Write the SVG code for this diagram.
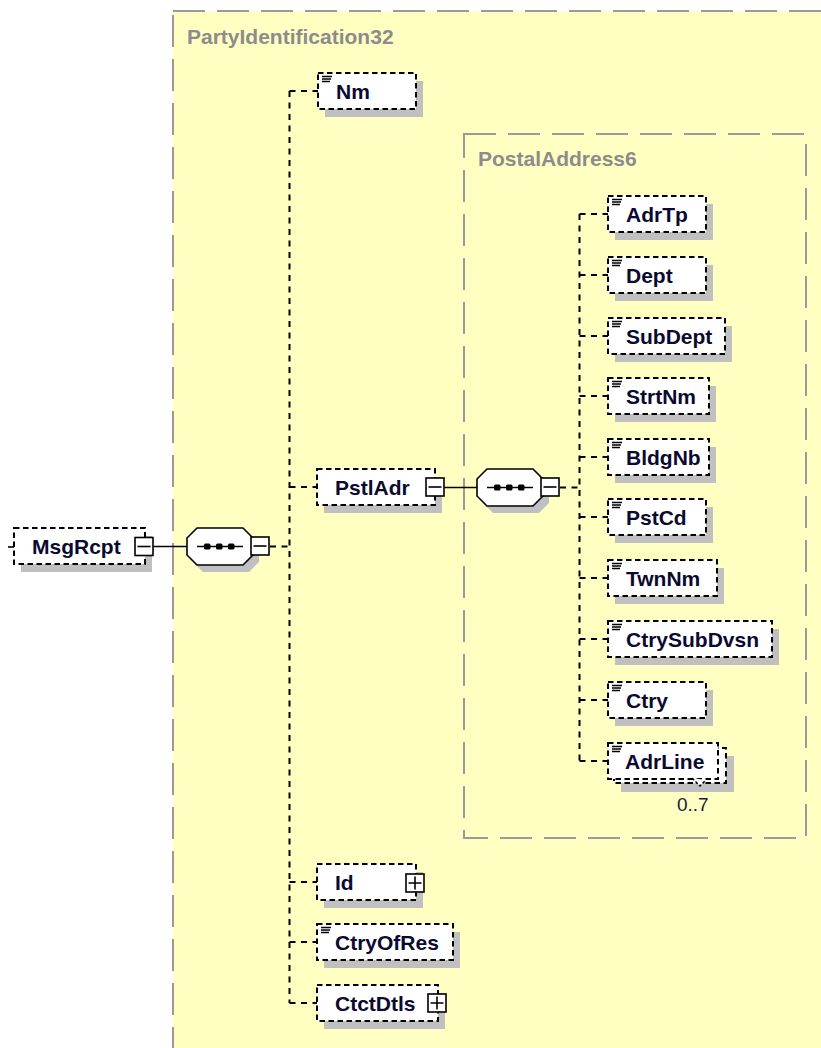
<svg xmlns="http://www.w3.org/2000/svg" xmlns:xlink="http://www.w3.org/1999/xlink" width="821" height="1048" viewBox="0 0 821 1048">
<style>
.cont{fill:#ffffc2;stroke:#9a9a9a;stroke-width:2;stroke-dasharray:32 12}
.ttl{font-family:"Liberation Sans",Arial,sans-serif;font-weight:bold;font-size:21px;fill:#8c8c8c}
.node{fill:#fff;stroke:#000;stroke-width:2;stroke-dasharray:5.5 3.5}
.shadow{fill:#c0c0c0}
.lbl{font-family:"Liberation Sans",Arial,sans-serif;font-weight:bold;font-size:21px;fill:#0a0a30}
.card{font-family:"Liberation Sans",Arial,sans-serif;font-size:19px;fill:#1a1a3c}
.conn{fill:none;stroke:#000;stroke-width:2;stroke-dasharray:6 5.5}
.solid{fill:none;stroke:#000;stroke-width:1.6}
</style>
<defs>
<g id="ico"><path d="M4 3.5h10M4 6h9M4 8.5h8" stroke="#000" stroke-width="1.4"/></g>
<g id="minus"><rect x="0" y="0" width="18" height="18" fill="#fff" stroke="#000" stroke-width="1.6"/><path d="M2.5 9h13" stroke="#000" stroke-width="1.6"/></g>
<g id="plus"><rect x="0" y="0" width="18" height="18" fill="#fff" stroke="#000" stroke-width="1.6"/><path d="M2.5 9h13M9 2.5v13" stroke="#000" stroke-width="1.6"/></g>
<g id="seq">
<polygon points="16,7 62,7 72,17 72,34 62,44 16,44 6,34 6,17" fill="#c0c0c0"/>
<polygon points="10,0 56,0 66,10 66,27 56,37 10,37 0,27 0,10" fill="#fff" stroke="#000" stroke-width="1.6"/>
<path d="M10 18.5H56" stroke="#000" stroke-width="1.6"/>
<rect x="17" y="15.5" width="6.5" height="6" rx="1.5" fill="#000"/><rect x="29" y="15.5" width="6.5" height="6" rx="1.5" fill="#000"/><rect x="41" y="15.5" width="6.5" height="6" rx="1.5" fill="#000"/>
<use xlink:href="#minus" href="#minus" x="64" y="9"/>
</g>
</defs>
<rect width="821" height="1048" fill="#fff"/>
<g id="PartyIdentification32">
<rect class="cont" x="173" y="11" width="700" height="1100"/>
<text class="ttl" x="187" y="44">PartyIdentification32</text>
</g>
<g id="PostalAddress6">
<rect class="cont" x="464" y="134" width="342" height="704"/>
<text class="ttl" x="478" y="166">PostalAddress6</text>
</g>
<g id="connectors">
<path class="solid" d="M8 547H14"/>
<path class="solid" d="M153 546.5H187"/>
<path class="conn" d="M270 546.5H289.5"/>
<path class="conn" d="M289.5 91V1003M289.5 91H318M289.5 487H317M289.5 882H317M289.5 942H317M289.5 1003H317"/>
<path class="solid" d="M444 487.5H477"/>
<path class="conn" d="M560 487.5H579.5"/>
<path class="conn" d="M579.5 214V761M579.5 214H608M579.5 275H608M579.5 336H608M579.5 396H608M579.5 457H608M579.5 517H608M579.5 578H608M579.5 639H608M579.5 700H608M579.5 761H608"/>
</g>
<g id="MsgRcpt">
<rect class="shadow" x="21" y="536" width="131" height="36"/>
<rect class="node" x="14" y="528" width="131" height="36"/>
<text class="lbl" x="32" y="554">MsgRcpt</text>
<use xlink:href="#minus" href="#minus" x="135" y="537.5"/>
</g>
<g id="seq1"><use xlink:href="#seq" href="#seq" x="187" y="528"/></g>
<g id="Nm">
<rect class="shadow" x="325" y="81" width="98" height="36"/>
<rect class="node" x="318" y="73" width="98" height="36"/>
<use xlink:href="#ico" href="#ico" x="318" y="73"/>
<text class="lbl" x="336" y="99">Nm</text>
</g>
<g id="PstlAdr">
<rect class="shadow" x="324" y="477" width="118" height="36"/>
<rect class="node" x="317" y="469" width="118" height="36"/>
<text class="lbl" x="335" y="495">PstlAdr</text>
<use xlink:href="#minus" href="#minus" x="426" y="478"/>
</g>
<g id="seq2"><use xlink:href="#seq" href="#seq" x="477" y="469"/></g>
<g id="AdrTp">
<rect class="shadow" x="615" y="204" width="98" height="36"/>
<rect class="node" x="608" y="196" width="98" height="36"/>
<use xlink:href="#ico" href="#ico" x="608" y="196"/>
<text class="lbl" x="626" y="222">AdrTp</text>
</g>
<g id="Dept">
<rect class="shadow" x="615" y="265" width="98" height="36"/>
<rect class="node" x="608" y="257" width="98" height="36"/>
<use xlink:href="#ico" href="#ico" x="608" y="257"/>
<text class="lbl" x="626" y="283">Dept</text>
</g>
<g id="SubDept">
<rect class="shadow" x="615" y="326" width="117" height="36"/>
<rect class="node" x="608" y="318" width="117" height="36"/>
<use xlink:href="#ico" href="#ico" x="608" y="318"/>
<text class="lbl" x="626" y="344">SubDept</text>
</g>
<g id="StrtNm">
<rect class="shadow" x="615" y="386" width="101" height="36"/>
<rect class="node" x="608" y="378" width="101" height="36"/>
<use xlink:href="#ico" href="#ico" x="608" y="378"/>
<text class="lbl" x="626" y="404">StrtNm</text>
</g>
<g id="BldgNb">
<rect class="shadow" x="615" y="447" width="101" height="36"/>
<rect class="node" x="608" y="439" width="101" height="36"/>
<use xlink:href="#ico" href="#ico" x="608" y="439"/>
<text class="lbl" x="626" y="465">BldgNb</text>
</g>
<g id="PstCd">
<rect class="shadow" x="615" y="507" width="98" height="36"/>
<rect class="node" x="608" y="499" width="98" height="36"/>
<use xlink:href="#ico" href="#ico" x="608" y="499"/>
<text class="lbl" x="626" y="525">PstCd</text>
</g>
<g id="TwnNm">
<rect class="shadow" x="615" y="568" width="109" height="36"/>
<rect class="node" x="608" y="560" width="109" height="36"/>
<use xlink:href="#ico" href="#ico" x="608" y="560"/>
<text class="lbl" x="626" y="586">TwnNm</text>
</g>
<g id="CtrySubDvsn">
<rect class="shadow" x="615" y="629" width="164" height="36"/>
<rect class="node" x="608" y="621" width="164" height="36"/>
<use xlink:href="#ico" href="#ico" x="608" y="621"/>
<text class="lbl" x="626" y="647">CtrySubDvsn</text>
</g>
<g id="Ctry">
<rect class="shadow" x="615" y="690" width="98" height="36"/>
<rect class="node" x="608" y="682" width="98" height="36"/>
<use xlink:href="#ico" href="#ico" x="608" y="682"/>
<text class="lbl" x="626" y="708">Ctry</text>
</g>
<g id="AdrLine">
<rect class="shadow" x="621" y="756" width="113" height="36"/>
<rect class="node" x="614" y="748" width="112" height="35"/>
<rect class="node" x="608" y="743" width="110" height="36"/>
<use xlink:href="#ico" href="#ico" x="608" y="743"/>
<text class="lbl" x="625" y="769">AdrLine</text>
<polyline points="692,778 700,786 706,780" fill="#fff" stroke="#000" stroke-width="1.5" stroke-dasharray="3 2"/>
<text class="card" x="677" y="811">0..7</text>
</g>
<g id="Id">
<rect class="shadow" x="324" y="872" width="99" height="36"/>
<rect class="node" x="317" y="864" width="99" height="36"/>
<text class="lbl" x="335" y="890">Id</text>
<use xlink:href="#plus" href="#plus" x="406" y="874"/>
</g>
<g id="CtryOfRes">
<rect class="shadow" x="324" y="932" width="136" height="36"/>
<rect class="node" x="317" y="924" width="136" height="36"/>
<use xlink:href="#ico" href="#ico" x="317" y="924"/>
<text class="lbl" x="335" y="950">CtryOfRes</text>
</g>
<g id="CtctDtls">
<rect class="shadow" x="324" y="993" width="121" height="36"/>
<rect class="node" x="317" y="985" width="121" height="36"/>
<text class="lbl" x="335" y="1011">CtctDtls</text>
<use xlink:href="#plus" href="#plus" x="428" y="994"/>
</g>
</svg>
